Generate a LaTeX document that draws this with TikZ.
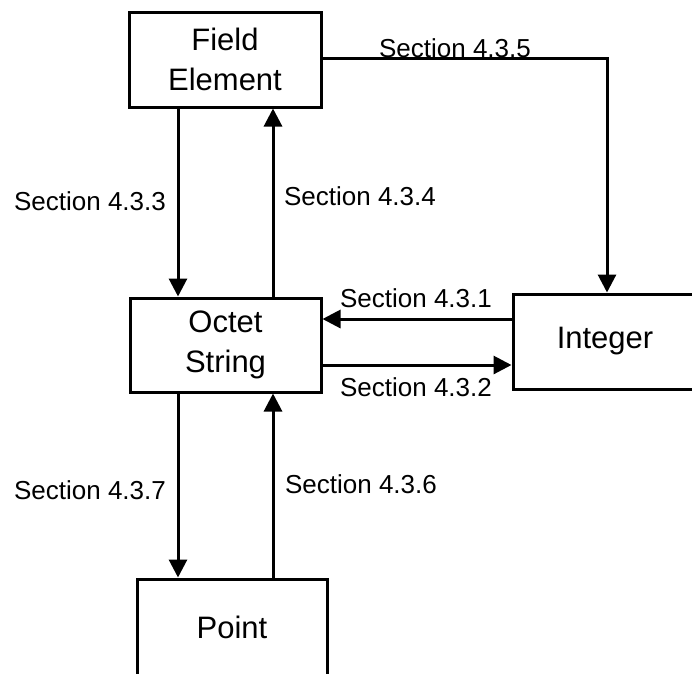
\documentclass[tikz,border=0pt]{standalone}
\usepackage{fontspec}
\setmainfont{Liberation Sans}
\usetikzlibrary{arrows.meta}
\begin{document}
\begin{tikzpicture}[x=1pt,y=-1pt,
  box/.style={draw=black,line width=3pt,fill=white,inner sep=0pt,align=center,
    font=\fontsize{31}{40}\selectfont},
  conn/.style={line width=3pt},
  arr/.style={conn,-{Triangle[length=18pt,width=18pt]}},
  lbl/.style={anchor=base,inner sep=0pt,font=\fontsize{26}{31}\selectfont}]
\useasboundingbox (0,0) rectangle (692,673);
\clip (0,0) rectangle (692,673);
% boxes
\node[box,minimum width=192pt,minimum height=95pt] (fe) at (225,59.5) {Field\\Element};
\node[box,minimum width=191pt,minimum height=94pt] (os) at (225.5,345) {Octet\\String};
\node[box,minimum width=184pt,minimum height=95pt] (int) at (605,341.5) {Integer};
\node[box,minimum width=190pt,minimum height=96pt] (pt) at (232,627) {Point};
% helper coordinates
\coordinate (L) at (178,0);
\coordinate (R) at (273,0);
\coordinate (U) at (0,319);
\coordinate (D) at (0,365);
\coordinate (T) at (0,58);
\coordinate (V) at (607,0);
% connectors
\draw[arr] (fe.south -| L) -- (os.north -| L);
\draw[arr] (os.north -| R) -- (fe.south -| R);
\draw[arr] (fe.east |- T) -| (int.north -| V);
\draw[arr] (int.west |- U) -- (os.east |- U);
\draw[arr] (os.east |- D) -- (int.west |- D);
\draw[arr] (os.south -| L) -- (pt.north -| L);
\draw[arr] (pt.north -| R) -- (os.south -| R);
% labels
\node[lbl] (s435) at (455,57) {Section 4.3.5};
\node[lbl] (s431) at (416,307) {Section 4.3.1};
\node[lbl] (s432) at (416,396) {Section 4.3.2};
\node[lbl] (s433) at (90,210) {Section 4.3.3};
\node[lbl] (s434) at (360,205) {Section 4.3.4};
\node[lbl] (s437) at (90,499) {Section 4.3.7};
\node[lbl] (s436) at (361,493) {Section 4.3.6};
\end{tikzpicture}
\end{document}
